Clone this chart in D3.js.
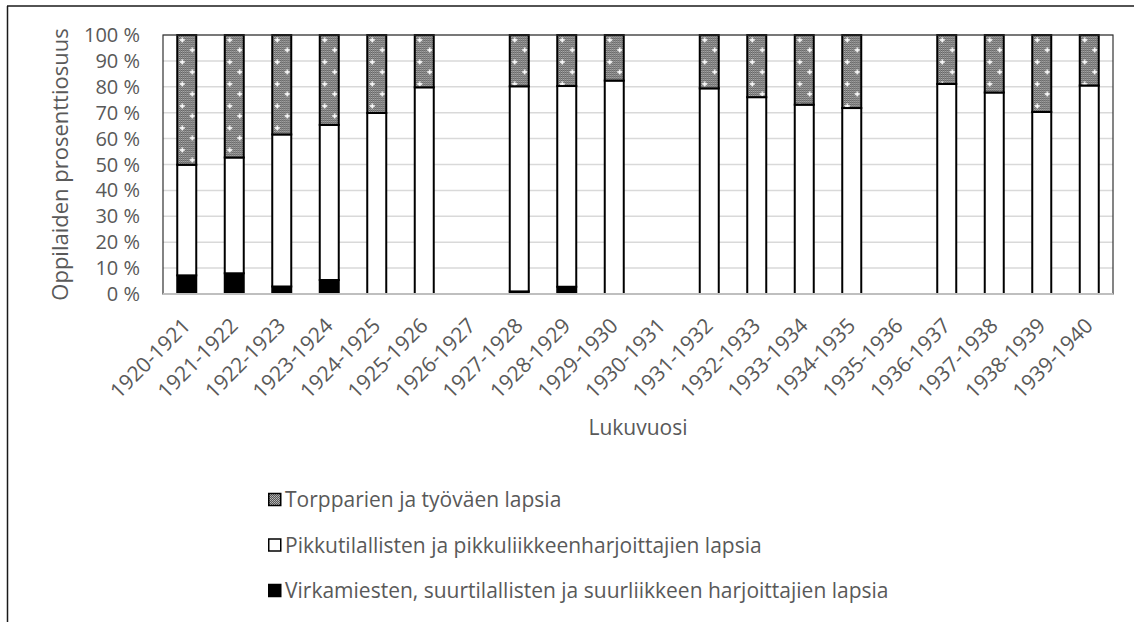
<!DOCTYPE html>
<html>
<head>
<meta charset="utf-8">
<script src="https://cdn.jsdelivr.net/npm/d3@7"></script>
<style>
  html, body { margin: 0; padding: 0; background: #fff; }
  svg { display: block; }
  text { font-family: "Open Sans", "Liberation Sans", sans-serif; fill: #595959; }
</style>
</head>
<body>
<svg id="chart" width="1134" height="622"></svg>
<script>
// ---- data ----
const categories = ["1920-1921","1921-1922","1922-1923","1923-1924","1924-1925","1925-1926","1926-1927","1927-1928","1928-1929","1929-1930","1930-1931","1931-1932","1932-1933","1933-1934","1934-1935","1935-1936","1936-1937","1937-1938","1938-1939","1939-1940"];
const virkamiehet = [7.2, 8.0, 2.9, 5.4, 0, 0, null, 1.0, 2.8, 0, null, 0, 0, 0, 0, null, 0, 0, 0, 0];
const pikkutilalliset = [42.7, 44.7, 58.7, 59.9, 69.9, 79.8, null, 79.2, 77.5, 82.4, null, 79.4, 76.0, 73.1, 71.8, null, 81.1, 77.8, 70.3, 80.5];
const torpparit = [50.1, 47.3, 38.4, 34.7, 30.1, 20.2, null, 19.8, 19.7, 17.6, null, 20.6, 24.0, 26.9, 28.2, null, 18.9, 22.2, 29.7, 19.5];
const seriesNames = ["Virkamiesten, suurtilallisten ja suurliikkeen harjoittajien lapsia", "Pikkutilallisten ja pikkuliikkeenharjoittajien lapsia", "Torpparien ja työväen lapsia"];
const yTicks = [0,10,20,30,40,50,60,70,80,90,100];
const yTitle = "Oppilaiden prosenttiosuus";
const xTitle = "Lukuvuosi";

// ---- layout ----
const svg = d3.select("#chart");
const plot = {left: 163, right: 1113, top: 35, bottom: 294};

const x = d3.scaleBand().domain(categories).range([plot.left, plot.right]).paddingInner(0.6).paddingOuter(0.3);
const y = d3.scaleLinear().domain([0, 100]).range([plot.bottom, plot.top]);

// patterns
const defs = svg.append("defs");
const p1 = defs.append("pattern").attr("id","dotgrid").attr("patternUnits","userSpaceOnUse").attr("width",2).attr("height",2);
p1.append("rect").attr("width",2).attr("height",2).attr("fill","#565656");
p1.append("rect").attr("x",0).attr("y",0).attr("width",1).attr("height",1).attr("fill","#bdbdbd");
p1.append("rect").attr("x",1).attr("y",1).attr("width",1).attr("height",1).attr("fill","#a5a5a5");
const step = x.step();
const p2 = defs.append("pattern").attr("id","torppa").attr("patternUnits","userSpaceOnUse")
  .attr("width", step).attr("height", 22).attr("x", plot.left).attr("y", plot.top);
p2.append("rect").attr("width", step).attr("height", 22).attr("fill","url(#dotgrid)");
function sparkle(g, cx, cy) {
  g.append("rect").attr("x",cx-2.5).attr("y",cy-0.75).attr("width",5).attr("height",1.5).attr("fill","#fff");
  g.append("rect").attr("x",cx-0.75).attr("y",cy-2.5).attr("width",1.5).attr("height",5).attr("fill","#fff");
}
const off = x.paddingOuter() * step;
sparkle(p2, off + 5, 5);
sparkle(p2, off + 15, 15);

// outer chart border (left + top)
svg.append("line").attr("x1",7.5).attr("x2",7.5).attr("y1",6).attr("y2",622).attr("stroke","#1a1a1a").attr("stroke-width",1.5);
svg.append("line").attr("x1",7).attr("x2",1134).attr("y1",6).attr("y2",6).attr("stroke","#1a1a1a").attr("stroke-width",1.5);

// gridlines
svg.append("g").selectAll("line").data(yTicks).join("line")
  .attr("x1", plot.left).attr("x2", plot.right)
  .attr("y1", d => y(d)).attr("y2", d => y(d))
  .attr("stroke", "#d9d9d9").attr("stroke-width", 1.5);

// y axis labels
svg.append("g").selectAll("text").data(yTicks).join("text")
  .attr("x", 140).attr("y", d => y(d)).attr("dy", "0.35em")
  .attr("text-anchor", "end").attr("font-size", 20)
  .text(d => d + " %");

// stacked bars
const rows = categories.map((c, i) => ({c, v: virkamiehet[i], p: pikkutilalliset[i], t: torpparit[i]}));
const barG = svg.append("g");
rows.forEach(r => {
  if (r.v === null) return;
  const segs = [
    {y0: 0, y1: r.v, fill: "#000"},
    {y0: r.v, y1: r.v + r.p, fill: "#fff"},
    {y0: r.v + r.p, y1: r.v + r.p + r.t, fill: "url(#torppa)"}
  ];
  segs.forEach(s => {
    if (s.y1 - s.y0 <= 0) return;
    barG.append("rect")
      .attr("x", x(r.c)).attr("width", x.bandwidth())
      .attr("y", y(s.y1)).attr("height", y(s.y0) - y(s.y1))
      .attr("fill", s.fill).attr("stroke", "#000").attr("stroke-width", 2);
  });
});

// plot border
svg.append("rect").attr("x", plot.left).attr("y", plot.top)
  .attr("width", plot.right - plot.left).attr("height", plot.bottom - plot.top)
  .attr("fill", "none").attr("stroke", "#333").attr("stroke-width", 1.2);
// x axis line
svg.append("line").attr("x1", plot.left).attr("x2", plot.right).attr("y1", plot.bottom).attr("y2", plot.bottom)
  .attr("stroke", "#bfbfbf").attr("stroke-width", 2);

// x labels
svg.append("g").selectAll("text").data(categories).join("text")
  .attr("transform", d => `translate(${x(d) + x.bandwidth()/2 + 5},${327}) rotate(-45)`)
  .attr("text-anchor", "end").attr("font-size", 21)
  .text(d => d);

// axis titles
svg.append("text").attr("transform", `translate(68,${(plot.top+plot.bottom)/2}) rotate(-90)`)
  .attr("text-anchor", "middle").attr("font-size", 22).text(yTitle);
svg.append("text").attr("x", (plot.left+plot.right)/2).attr("y", 435)
  .attr("text-anchor", "middle").attr("font-size", 21).text(xTitle);

// legend
const legendItems = [
  {name: seriesNames[2], fill: "url(#dotgrid)", stroke: "#000"},
  {name: seriesNames[1], fill: "#fff", stroke: "#000"},
  {name: seriesNames[0], fill: "#000", stroke: "#000"}
];
const lg = svg.append("g").selectAll("g").data(legendItems).join("g")
  .attr("transform", (d, i) => `translate(268,${500 + i*45.5})`);
lg.append("rect").attr("x", 0.75).attr("y", -6.5).attr("width", 12).attr("height", 12)
  .attr("fill", d => d.fill).attr("stroke", d => d.stroke).attr("stroke-width", 1.5);
lg.append("text").attr("x", 17).attr("dy", "0.35em").attr("font-size", 21).text(d => d.name);
</script>
</body>
</html>
